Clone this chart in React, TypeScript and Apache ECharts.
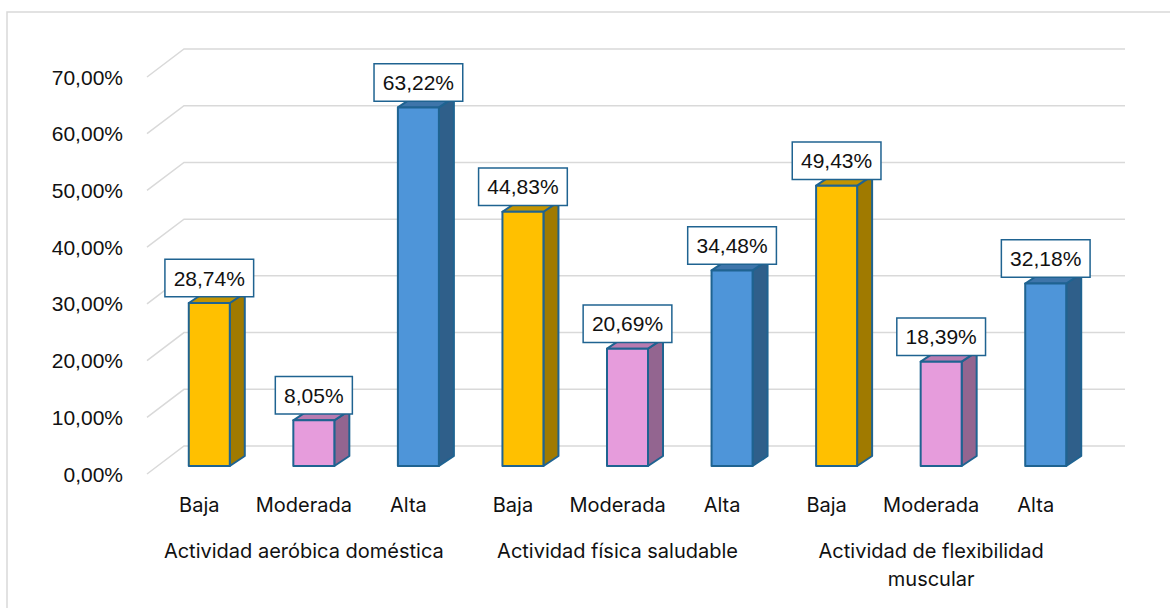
import React, { useEffect, useRef } from "react";
import * as echarts from "echarts";

// Activity groups and intensity levels (percentages of respondents)
const groups = [
  "Actividad aeróbica doméstica",
  "Actividad física saludable",
  "Actividad de flexibilidad\nmuscular",
];
const levels = ["Baja", "Moderada", "Alta"];
const baja = [28.74, 44.83, 49.43];
const moderada = [8.05, 20.69, 18.39];
const alta = [63.22, 34.48, 32.18];
const yTicks = [0, 10, 20, 30, 40, 50, 60, 70];

// face colours per level: front, top, side
const faceColors = [
  { front: "#FFC000", top: "#C49400", side: "#A07A00" },
  { front: "#E69CDC", top: "#B87BB0", side: "#936590" },
  { front: "#4E95D9", top: "#3E75AA", side: "#2F5F8A" },
];
const edgeColor = "#1F6391";
const gridColor = "#D9D9D9";

// floor depth (back wall offset) and bar depth in pixels
const FLOOR_DX = 37;
const FLOOR_DY = -28;
const BAR_SHIFT_X = 10;
const BAR_SHIFT_Y = -8;
const BAR_DX = 15;
const BAR_DY = -10;
const BAR_W = 41;

const fmtPct = (v: number) => v.toFixed(2).replace(".", ",") + "%";

export default function App() {
  const ref = useRef<HTMLDivElement>(null);

  useEffect(() => {
    document.body.style.margin = "0";
    if (!ref.current) return;
    const chart = echarts.init(ref.current, null, { renderer: "svg" });

    const seriesByLevel = [baja, moderada, alta];
    const catKeys: string[] = [];
    const barData: number[][] = [];
    groups.forEach((_, g) => {
      levels.forEach((_, l) => {
        const i = g * levels.length + l;
        catKeys.push(levels[l] + "#" + i);
        barData.push([i, seriesByLevel[l][g], l]);
      });
    });

    const numFont = '21px "Liberation Sans", Arial, sans-serif';

    chart.setOption({
      animation: false,
      backgroundColor: "#ffffff",
      graphic: [
        {
          type: "rect",
          shape: { x: 7, y: 12, width: 1300, height: 800 },
          style: { fill: "none", stroke: gridColor, lineWidth: 1.5 },
          silent: true,
          z: -10,
        },
      ],
      grid: { left: 147, top: 77, width: 941, height: 397 },
      xAxis: [
        {
          type: "category",
          data: catKeys,
          position: "bottom",
          axisLine: { show: false },
          axisTick: { show: false },
          splitLine: { show: false },
          axisLabel: {
            interval: 0,
            margin: 19,
            fontFamily: "Inter, sans-serif",
            fontSize: 20,
            lineHeight: 24,
            color: "#111111",
            formatter: (v: string) => v.split("#")[0],
          },
        },
        {
          type: "category",
          data: groups,
          position: "bottom",
          axisLine: { show: false },
          axisTick: { show: false },
          splitLine: { show: false },
          axisLabel: {
            interval: 0,
            margin: 63,
            fontFamily: "Inter, sans-serif",
            fontSize: 20,
            lineHeight: 28,
            color: "#111111",
            align: "center",
          },
        },
      ],
      yAxis: {
        type: "value",
        min: 0,
        max: 70,
        interval: 10,
        axisLine: { show: false },
        axisTick: { show: false },
        splitLine: { show: false },
        axisLabel: {
          margin: 24,
          fontFamily: '"Liberation Sans", Arial, sans-serif',
          fontSize: 21,
          color: "#111111",
          formatter: (v: number) => fmtPct(v),
        },
      },
      series: [
        {
          type: "custom",
          z: 1,
          silent: true,
          data: yTicks.map((t) => [0, t]),
          renderItem: (params: any, api: any) => {
            const p = api.coord([0, api.value(1)]);
            const cs = params.coordSys;
            const x0 = cs.x;
            const x1 = cs.x + cs.width;
            const y = p[1];
            return {
              type: "polyline",
              shape: {
                points: [
                  [x0, y],
                  [x0 + FLOOR_DX, y + FLOOR_DY],
                  [x1 + FLOOR_DX, y + FLOOR_DY],
                ],
              },
              style: { stroke: gridColor, lineWidth: 1.5, fill: "none" },
            };
          },
        },
        {
          type: "custom",
          z: 2,
          data: barData,
          renderItem: (params: any, api: any) => {
            const idx = api.value(0);
            const v = api.value(1);
            const lvl = api.value(2);
            const c = faceColors[lvl];
            const base = api.coord([idx, 0]);
            const top = api.coord([idx, v]);
            const cx = base[0] + BAR_SHIFT_X;
            const yb = base[1] + BAR_SHIFT_Y;
            const yt = top[1] + BAR_SHIFT_Y;
            const xl = cx - BAR_W / 2;
            const xr = cx + BAR_W / 2;
            const edge = { stroke: edgeColor, lineWidth: 2, lineJoin: "round" };
            return {
              type: "group",
              children: [
                {
                  type: "polygon",
                  shape: {
                    points: [
                      [xr, yt],
                      [xr + BAR_DX, yt + BAR_DY],
                      [xr + BAR_DX, yb + BAR_DY],
                      [xr, yb],
                    ],
                  },
                  style: { fill: c.side, ...edge },
                },
                {
                  type: "polygon",
                  shape: {
                    points: [
                      [xl, yt],
                      [xl + BAR_DX, yt + BAR_DY],
                      [xr + BAR_DX, yt + BAR_DY],
                      [xr, yt],
                    ],
                  },
                  style: { fill: c.top, ...edge },
                },
                {
                  type: "rect",
                  shape: { x: xl, y: yt, width: BAR_W, height: yb - yt },
                  style: { fill: c.front, ...edge },
                },
                {
                  type: "text",
                  x: cx,
                  y: yt - 7,
                  style: {
                    text: fmtPct(v),
                    font: numFont,
                    fill: "#111111",
                    align: "center",
                    verticalAlign: "bottom",
                    backgroundColor: "#ffffff",
                    borderColor: edgeColor,
                    borderWidth: 1.5,
                    padding: [6, 8, 6, 8],
                    lineHeight: 24,
                  },
                },
              ],
            };
          },
        },
      ],
    });

    return () => chart.dispose();
  }, []);

  return <div ref={ref} style={{ width: 1170, height: 608 }} />;
}
